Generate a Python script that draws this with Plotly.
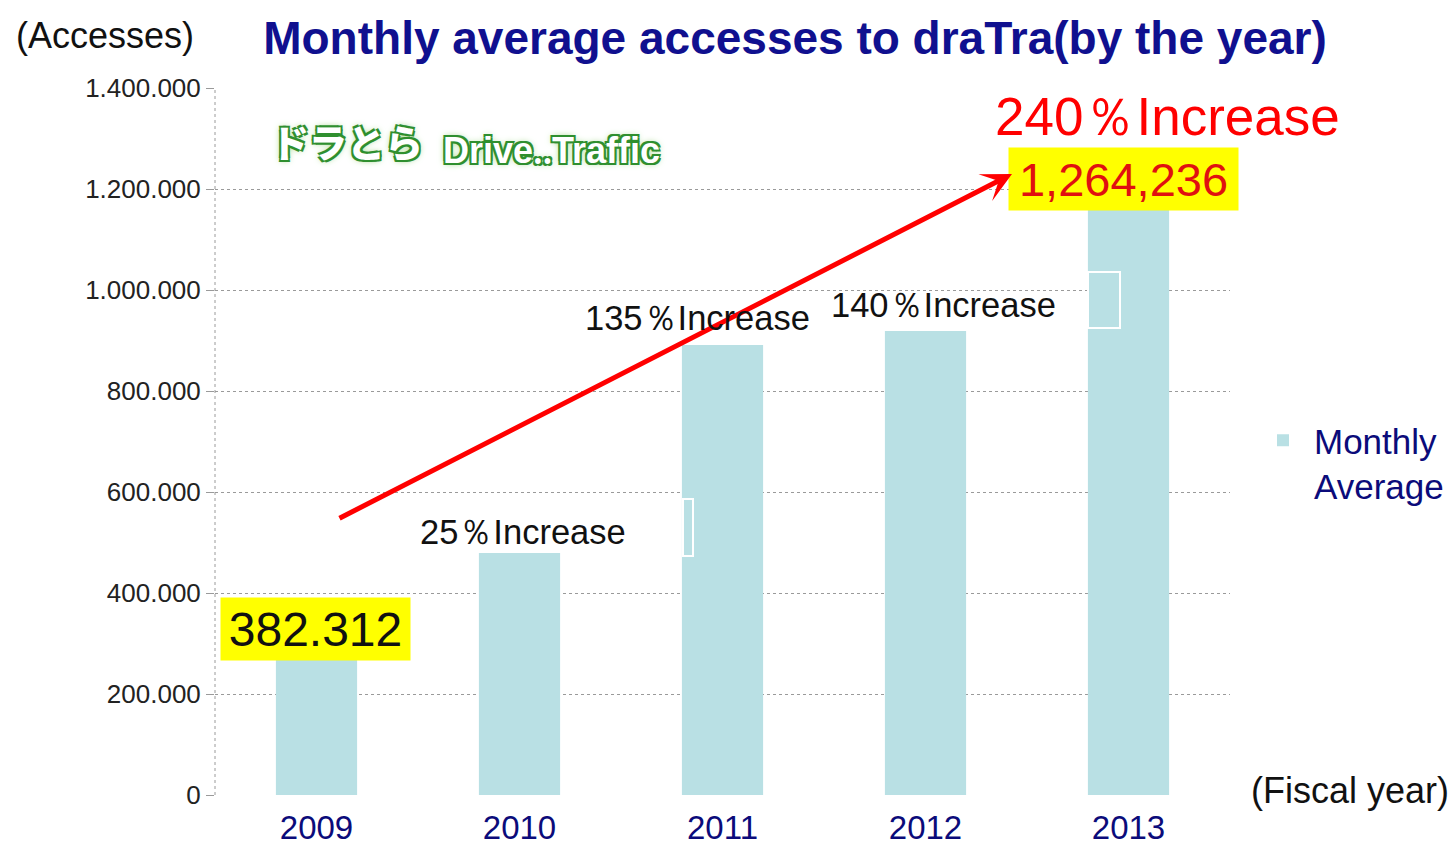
"""
Monthly average accesses to draTra, by fiscal year, as a Plotly bar chart.
"""

import plotly.graph_objects as go

# Data
FISCAL_YEARS = ["2009", "2010", "2011", "2012", "2013"]
MONTHLY_AVERAGE = [382312, 479000, 891000, 919000, 1264236]
VALUE_LABELS = ["382.312", "1,264,236"]
INCREASE_LABELS = ["25％Increase", "135％Increase", "140％Increase", "240％Increase"]
Y_TICKS = [0, 200000, 400000, 600000, 800000, 1000000, 1200000, 1400000]

NAVY = "#0b0b7a"
BAR_COLOR = "#b9e0e4"
GRID_COLOR = "#9a9a9a"
FONT = "Liberation Sans, Arial, sans-serif"

# The page body adds an 8px offset, so the figure is drawn 8px smaller
OFFSET = 8
FIG_W, FIG_H = 1456 - OFFSET, 853 - OFFSET

# Plot area in screen pixels (used to turn pixel spots into paper coords)
PLOT_L, PLOT_R, PLOT_T, PLOT_B = 215, 1230, 88, 795


def px(x):
    return (x - PLOT_L) / (PLOT_R - PLOT_L)


def py(y):
    return (PLOT_B - y) / (PLOT_B - PLOT_T)


def label(x, y, text, size, color, **kw):
    d = dict(
        x=px(x), y=py(y), xref="paper", yref="paper",
        xanchor="center", yanchor="middle",
        text=text, showarrow=False,
        font={"family": FONT, "size": size, "color": color},
    )
    d.update(kw)
    return d


fig = go.Figure()

fig.add_trace(
    go.Bar(
        x=FISCAL_YEARS,
        y=MONTHLY_AVERAGE,
        name="Monthly<br>Average",
        marker={"color": BAR_COLOR, "line": {"width": 0}},
        hoverinfo="x+y",
    )
)

annotations = []

# Logo (text stand-in)
logo_shadow = (
    "-2px -2px 0 #2f8f2f, 2px -2px 0 #2f8f2f, -2px 2px 0 #2f8f2f, "
    "2px 2px 0 #2f8f2f, 0 0 7px #7cc55a"
)
annotations.append(
    label(347, 140, "ドラとら", 38, "white",
          font={"family": "Noto Sans CJK JP", "size": 38, "color": "white",
                "weight": 900, "shadow": logo_shadow})
)
annotations.append(
    label(551, 151, "Drive‥Traffic", 36, "white",
          font={"family": FONT, "size": 36, "color": "white",
                "weight": 900, "shadow": logo_shadow})
)

# Value boxes
annotations.append(
    label(315.5, 629, VALUE_LABELS[0], 48, "#111111",
          bgcolor="#ffff00", width=189, height=62, borderpad=0)
)
annotations.append(
    label(1123.5, 179, VALUE_LABELS[1], 47, "#e01010",
          bgcolor="#ffff00", width=229, height=62, borderpad=0)
)

# Red growth arrow (drawn after the boxes so its tip stays visible)
annotations.append(
    dict(
        x=px(1012), y=py(174), xref="x domain", yref="y domain",
        ax=px(338), ay=py(519), axref="x domain", ayref="y domain",
        text="", showarrow=True, arrowhead=3, arrowsize=1,
        arrowwidth=5, arrowcolor="#ff0000",
    )
)

# Increase labels
inc_pos = [(523, 532, 34.5, "#111111"), (697, 318, 34.5, "#111111"),
           (943, 305, 34.5, "#111111"), (1167, 117, 53, "#ff0000")]
for text, (lx, ly, size, color) in zip(INCREASE_LABELS, inc_pos):
    annotations.append(label(lx, ly, text, size, color))

# Axis captions
annotations.append(label(105, 36, "(Accesses)", 36, "#111111"))
annotations.append(label(1350, 790, "(Fiscal year)", 36, "#111111"))

shapes = [
    # left axis line, dotted like the gridlines
    dict(type="line", xref="paper", yref="paper", x0=0, x1=0, y0=0, y1=1,
         line={"color": GRID_COLOR, "width": 1, "dash": "dot"}),
    # stray white frames left over in the original slide
    dict(type="rect", xref="paper", yref="paper",
         x0=px(1088), x1=px(1120), y0=py(328), y1=py(272),
         line={"color": "white", "width": 2}),
    dict(type="rect", xref="paper", yref="paper",
         x0=px(683), x1=px(693), y0=py(556), y1=py(499),
         line={"color": "white", "width": 2}),
]

fig.update_layout(
    width=FIG_W,
    height=FIG_H,
    paper_bgcolor="white",
    plot_bgcolor="white",
    separators=",.",
    bargap=0.6,
    margin={
        "l": PLOT_L - OFFSET,
        "r": 1456 - PLOT_R,
        "t": PLOT_T - OFFSET,
        "b": 853 - PLOT_B,
        "autoexpand": False,
    },
    title={
        "text": "<b>Monthly average accesses to draTra(by the year)</b>",
        "x": (795 - OFFSET) / FIG_W, "xanchor": "center",
        "y": 1 - (38 - OFFSET) / FIG_H, "yanchor": "middle",
        "font": {"family": FONT, "size": 46, "color": "#10108f"},
    },
    font={"family": FONT},
    showlegend=True,
    legend={
        "x": px(1252), "xanchor": "left",
        "y": py(411), "yanchor": "top",
        "valign": "top",
        "itemwidth": 52,
        "font": {"family": FONT, "size": 35, "color": NAVY},
        "bgcolor": "rgba(0,0,0,0)",
    },
    xaxis={
        "type": "category",
        "showgrid": False,
        "showline": False,
        "ticks": "",
        "automargin": False,
        "ticklabelstandoff": 10,
        "tickfont": {"family": FONT, "size": 33, "color": NAVY},
    },
    yaxis={
        "range": [0, 1400000],
        "tickvals": Y_TICKS,
        "tickformat": ",d",
        "automargin": False,
        "showgrid": True,
        "gridcolor": GRID_COLOR,
        "griddash": "dot",
        "gridwidth": 1,
        "zeroline": False,
        "showline": False,
        "ticks": "outside",
        "ticklen": 8,
        "tickcolor": GRID_COLOR,
        "tickfont": {"family": FONT, "size": 26, "color": "#222222"},
    },
    annotations=annotations,
    shapes=shapes,
)

fig.write_html("out.html")
